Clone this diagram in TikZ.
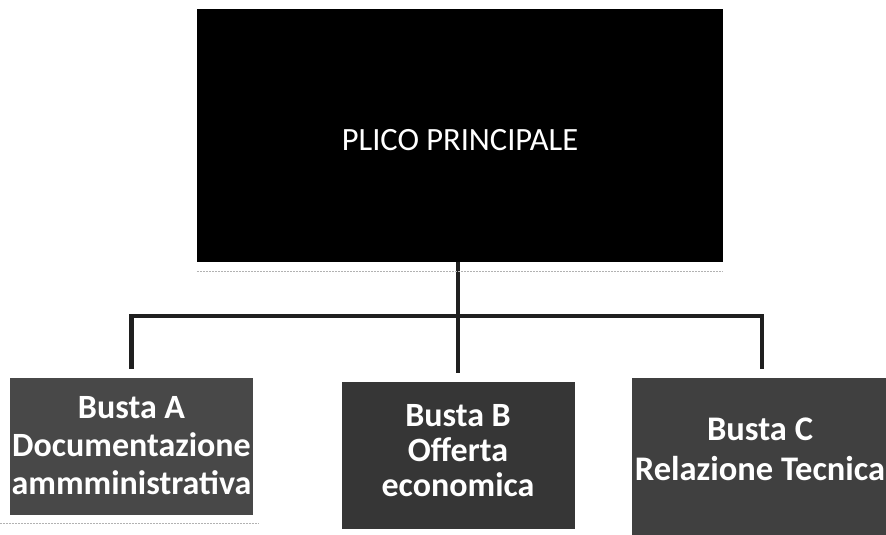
\documentclass[tikz,border=0pt]{standalone}
\usepackage{fontspec}
\setmainfont{Carlito}
\begin{document}
\begin{tikzpicture}[x=1pt,y=-1pt]
\tikzset{
  topbox/.style={fill=black, draw=none, minimum width=526pt, minimum height=253pt, inner sep=0pt},
  toptext/.style={text=white, inner sep=0pt, font=\fontsize{32.5}{38}\selectfont},
  bustabox/.style={draw=none, inner sep=0pt},
  bustatext/.style={text=white, inner sep=0pt, align=center},
  conn/.style={line width=4.5pt, draw=black!88},
  scan/.style={draw=black!30, line width=0.8pt, dash pattern=on 2pt off 1pt}
}
\definecolor{boxA}{HTML}{484848}
\definecolor{boxB}{HTML}{363636}
\definecolor{boxC}{HTML}{404040}
\useasboundingbox (0,0) rectangle (886,535);
% top box
\node[topbox] (top) at (460,135.5) {};
\node[toptext] (toplabel) at (460,140) {PLICO PRINCIPALE};
% bottom boxes
\node[bustabox, fill=boxA, minimum width=243pt, minimum height=137pt] (a) at (131.5,446.5) {};
\node[bustabox, fill=boxB, minimum width=233pt, minimum height=147pt] (b) at (458.5,455.5) {};
\node[bustabox, fill=boxC, minimum width=256pt, minimum height=170pt] (c) at (760,463) {};
\node[bustatext, font=\bfseries\fontsize{34}{38}\selectfont] (atext) at (131.5,446) {Busta A\\Documentazione\\ammministrativa};
\node[bustatext, font=\bfseries\fontsize{34}{35}\selectfont] (btext) at (458,451) {Busta B\\Offerta\\economica};
\node[bustatext, font=\bfseries\fontsize{34.5}{40}\selectfont] (ctext) at (760,449) {Busta C\\Relazione Tecnica};
% connectors
\coordinate (bus) at (458,316);
\draw[conn] (top.south -| bus) -- (bus);
\draw[conn, shorten >=9pt] (bus) -| (a.north);
\draw[conn, shorten >=9pt] (bus) -| ([xshift=2pt]c.north);
\draw[conn, shorten >=9pt] (bus) -- (bus |- b.north);
% scan artefacts
\draw[scan] ([yshift=-9pt]top.south west) -- ([yshift=-9pt]top.south east);
\draw[scan] ([xshift=-10pt,yshift=-8pt]a.south west) -- ([xshift=5pt,yshift=-8pt]a.south east);
\end{tikzpicture}
\end{document}
